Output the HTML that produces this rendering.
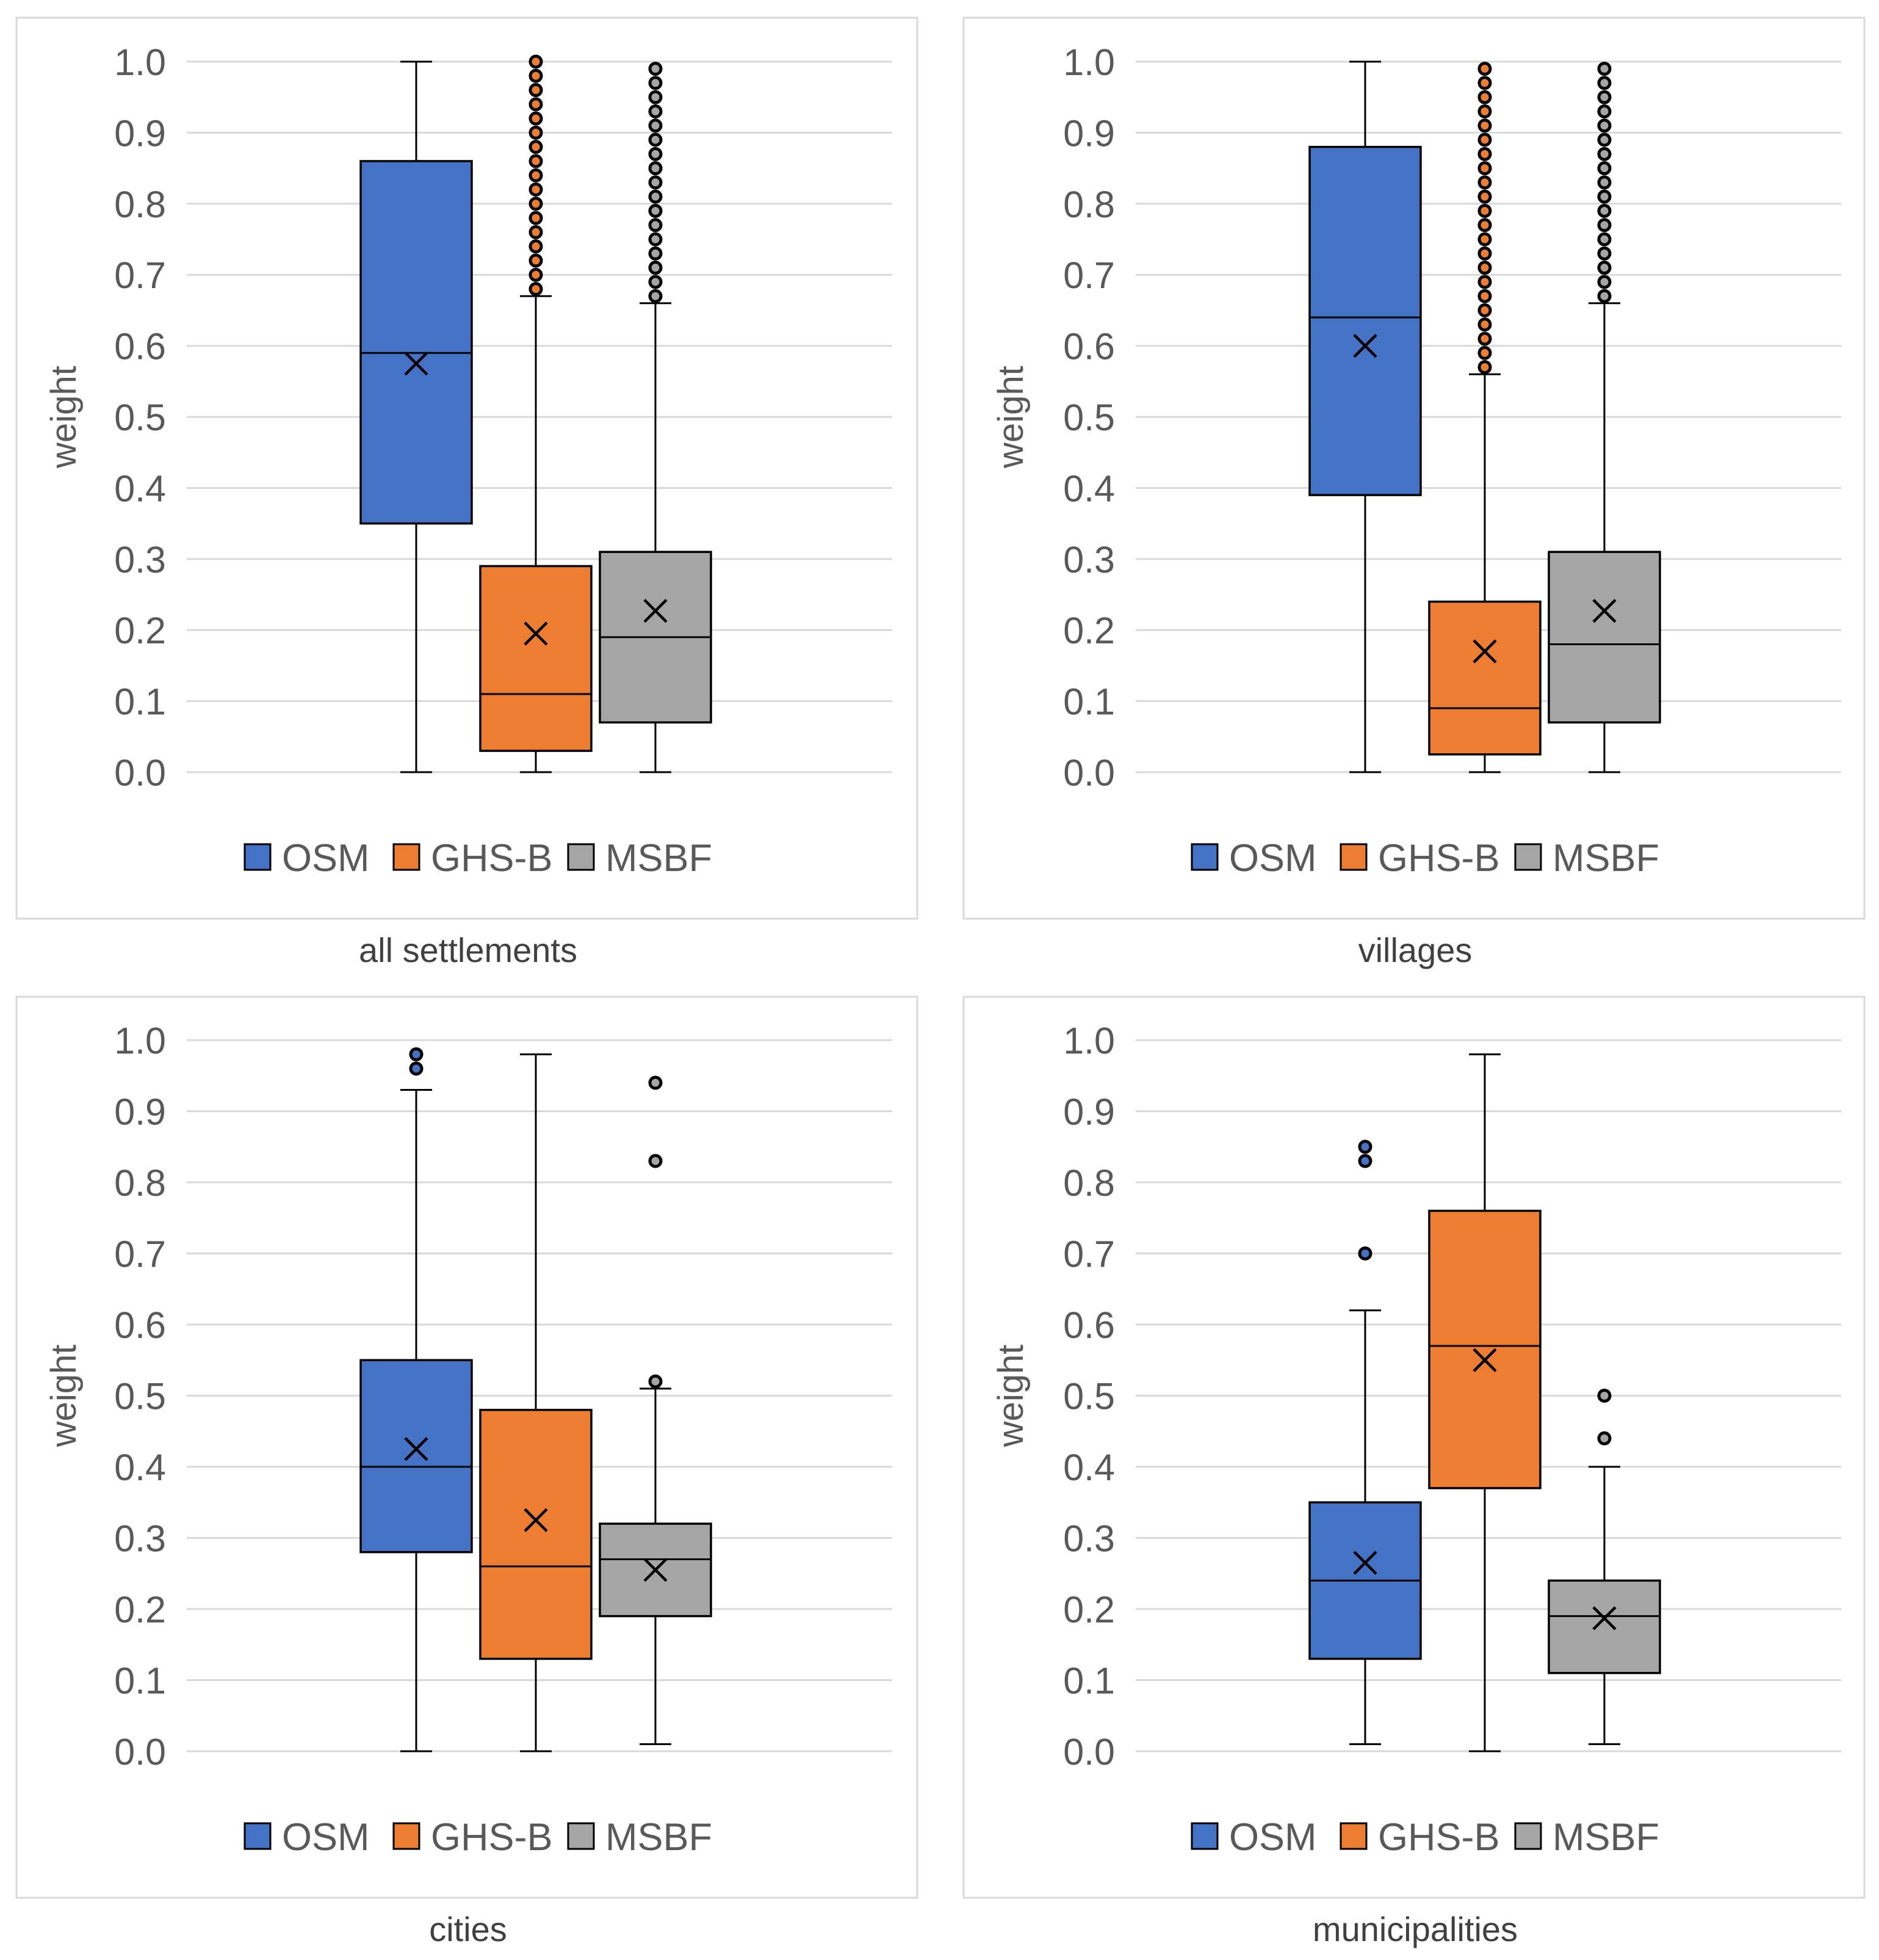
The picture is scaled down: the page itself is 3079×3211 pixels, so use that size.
<!DOCTYPE html>
<html><head><meta charset="utf-8"><style>
html,body{margin:0;padding:0;background:#fff;}
svg{display:block;font-family:"Liberation Sans",sans-serif;}
</style></head><body>
<svg id="chart" width="3079" height="3211" viewBox="0 0 3079 3211" xmlns="http://www.w3.org/2000/svg"></svg>
<script>
const panelTitles = ["all settlements", "villages", "cities", "municipalities"];
const seriesNames = ["OSM", "GHS-B", "MSBF"];
const seriesColors = ["#4472C4", "#ED7D31", "#A5A5A5"];
const yTicks = [0,0.1,0.2,0.3,0.4,0.5,0.6,0.7,0.8,0.9,1.0];
const yTickLabels = ["0.0","0.1","0.2","0.3","0.4","0.5","0.6","0.7","0.8","0.9","1.0"];
// [min, q1, median, q3, max, mean] per series
const allSettlementsStats = [[0,0.35,0.59,0.86,1.0,0.575],[0,0.03,0.11,0.29,0.67,0.195],[0,0.07,0.19,0.31,0.66,0.227]];
const villagesStats = [[0,0.39,0.64,0.88,1.0,0.60],[0,0.025,0.09,0.24,0.56,0.17],[0,0.07,0.18,0.31,0.66,0.227]];
const citiesStats = [[0,0.28,0.40,0.55,0.93,0.425],[0,0.13,0.26,0.48,0.98,0.325],[0.01,0.19,0.27,0.32,0.51,0.255]];
const municipalitiesStats = [[0.01,0.13,0.24,0.35,0.62,0.265],[0,0.37,0.57,0.76,0.98,0.55],[0.01,0.11,0.19,0.24,0.40,0.187]];
const allSettlementsOutliers = [[],[0.68,0.70,0.72,0.74,0.76,0.78,0.80,0.82,0.84,0.86,0.88,0.90,0.92,0.94,0.96,0.98,1.0],[0.67,0.69,0.71,0.73,0.75,0.77,0.79,0.81,0.83,0.85,0.87,0.89,0.91,0.93,0.95,0.97,0.99]];
const villagesOutliers = [[],[0.57,0.59,0.61,0.63,0.65,0.67,0.69,0.71,0.73,0.75,0.77,0.79,0.81,0.83,0.85,0.87,0.89,0.91,0.93,0.95,0.97,0.99],[0.67,0.69,0.71,0.73,0.75,0.77,0.79,0.81,0.83,0.85,0.87,0.89,0.91,0.93,0.95,0.97,0.99]];
const citiesOutliers = [[0.96,0.98],[],[0.52,0.83,0.94]];
const municipalitiesOutliers = [[0.70,0.83,0.85],[],[0.44,0.50]];

const panelStats = [allSettlementsStats, villagesStats, citiesStats, municipalitiesStats];
const panelOutliers = [allSettlementsOutliers, villagesOutliers, citiesOutliers, municipalitiesOutliers];

const NS = "http://www.w3.org/2000/svg";
const svg = document.getElementById("chart");
function mk(tag, attrs, parent){
  const e = document.createElementNS(NS, tag);
  for (const k in attrs) e.setAttribute(k, attrs[k]);
  parent.appendChild(e); return e;
}
const layout = [
  {bx:27, by:29, plotL:306, y1:101, y0:1265},
  {bx:1579, by:29, plotL:1861, y1:101, y0:1265},
  {bx:27, by:1633, plotL:306, y1:1704, y0:2869},
  {bx:1579, by:1633, plotL:1861, y1:1704, y0:2869}
];
panelTitles.forEach((title, p) => {
  const L = layout[p];
  const g = mk("g", {}, svg);
  
  
  const border = mk("rect", {x:L.bx, y:L.by, width:1476, height:1476, fill:"#fff", stroke:"#D9D9D9", "stroke-width":3}, g);
  
  
  const yScale = v => L.y0 - (v) * (L.y0 - L.y1);
  const plotR = L.plotL + 1156;
  yTicks.forEach((t, i) => {
    const gl = mk("line", {x1:L.plotL, x2:plotR, y1:yScale(t), y2:yScale(t), stroke:"#D9D9D9", "stroke-width":3}, g);
    
    
    const tl = mk("text", {x:L.plotL - 34, y:yScale(t) + 22, "text-anchor":"end", "font-size":61, fill:"#595959"}, g);
    tl.textContent = yTickLabels[i];
    
    
  });
  const yc = (L.y0 + L.y1) / 2;
  const yt = mk("text", {x:0, y:0, transform:"translate(" + (L.bx + 97) + "," + yc + ") rotate(-90)", "text-anchor":"middle", "font-size":58, fill:"#595959"}, g);
  yt.textContent = "weight";
  
  
  const stats = panelStats[p], outs = panelOutliers[p];
  stats.forEach((s, k) => {
    const cx = L.plotL + 376 + k * 196;
    const bw = 182, cap = 26;
    const sg = mk("g", {}, g);
    
    
    mk("line", {x1:cx, x2:cx, y1:yScale(s[4]), y2:yScale(s[3]), stroke:"#000", "stroke-width":3}, sg);
    mk("line", {x1:cx, x2:cx, y1:yScale(s[1]), y2:yScale(s[0]), stroke:"#000", "stroke-width":3}, sg);
    mk("line", {x1:cx-cap, x2:cx+cap, y1:yScale(s[4]), y2:yScale(s[4]), stroke:"#000", "stroke-width":3}, sg);
    mk("line", {x1:cx-cap, x2:cx+cap, y1:yScale(s[0]), y2:yScale(s[0]), stroke:"#000", "stroke-width":3}, sg);
    mk("rect", {x:cx-bw/2, y:yScale(s[3]), width:bw, height:yScale(s[1])-yScale(s[3]), fill:seriesColors[k], stroke:"#000", "stroke-width":3.5}, sg);
    mk("line", {x1:cx-bw/2, x2:cx+bw/2, y1:yScale(s[2]), y2:yScale(s[2]), stroke:"#000", "stroke-width":3}, sg);
    const my = yScale(s[5]), h = 18;
    mk("path", {d:`M${cx-h},${my-h}L${cx+h},${my+h}M${cx+h},${my-h}L${cx-h},${my+h}`, stroke:"#000", "stroke-width":4.5, fill:"none"}, sg);
    outs[k].forEach(v => {
      const c = mk("circle", {cx:cx, cy:yScale(v), r:9, fill:seriesColors[k], stroke:"#000", "stroke-width":5}, sg);
      
      
    });
  });
  const ly = L.by + 1375;
  const lxs = [401, 645, 931];
  seriesNames.forEach((n, k) => {
    const lg = mk("g", {}, g);
    
    
    const x = L.bx - 27 + lxs[k];
    mk("rect", {x:x, y:ly - 21, width:42, height:42, fill:seriesColors[k], stroke:"#000", "stroke-width":3}, lg);
    const t = mk("text", {x:x + 61, y:ly + 23, "font-size":63, fill:"#595959"}, lg);
    t.textContent = n;
  });
  const tt = mk("text", {x:L.bx + 740, y:L.by + 1547, "text-anchor":"middle", "font-size":56, fill:"#404040"}, g);
  tt.textContent = title;
  
  
});
</script>
</body></html>
